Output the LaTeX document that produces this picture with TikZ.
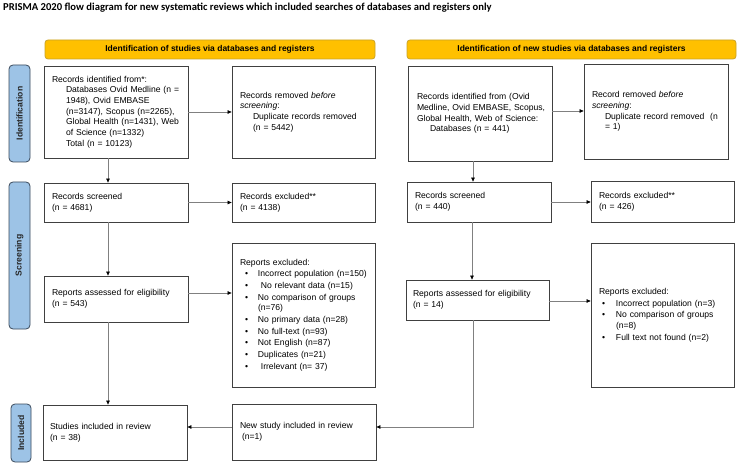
\documentclass[tikz,border=0pt]{standalone}
\usepackage{fontspec}
\setmainfont{Liberation Sans}
\newfontfamily\titlefont{Carlito}
\usetikzlibrary{arrows.meta}
\definecolor{hdrfill}{HTML}{FFC000}
\definecolor{hdrdraw}{HTML}{C9A227}
\definecolor{tabfill}{HTML}{9DC3E6}
\definecolor{tabdraw}{HTML}{3B4A5C}
\newcommand{\ind}[2]{\mbox{\hspace*{#1}#2}}
\begin{document}
\begin{tikzpicture}[x=1pt,y=-1pt,
  box/.style={draw=black!75, line width=0.8pt, fill=white, inner xsep=8pt, inner ysep=2pt,
    align=left, font=\fontsize{8.6}{10.7}\selectfont, anchor=center},
  hdr/.style={draw=hdrdraw, line width=0.8pt, fill=hdrfill, rounded corners=3pt,
    minimum height=19pt, inner sep=0pt, font=\bfseries\fontsize{8.5}{9}\selectfont, anchor=center},
  tabbox/.style={draw=tabdraw, line width=0.8pt, fill=tabfill, rounded corners=4pt, rotate=90,
    inner sep=0pt, font=\bfseries\fontsize{8.6}{9}\selectfont, text=black!85, anchor=center},
  arr/.style={draw=black!50, line width=0.7pt, -{Triangle[length=4pt,width=3.6pt,color=black]}}
]
\fill[white] (0,0) rectangle (739,465);
\useasboundingbox (0,0) rectangle (739,465);

\node[anchor=west, inner sep=0pt, font=\titlefont\bfseries\fontsize{10.6}{12}\selectfont] (title) at (3,8)
  {PRISMA 2020 flow diagram for new systematic reviews which included searches of databases and registers only};

% headers
\node[hdr, minimum width=330pt] (hl) at (210,49.5) {Identification of studies via databases and registers};
\node[hdr, minimum width=329pt] (hr) at (571.5,49.5) {Identification of new studies via databases and registers};

% side tabs
\node[tabbox, minimum width=97pt, minimum height=21pt] (tid) at (19.5,113.5) {Identification};
\node[tabbox, minimum width=147pt, minimum height=21pt] (tsc) at (19.5,255.5) {Screening};
\node[tabbox, minimum width=58pt, minimum height=20pt] (tin) at (21,433) {Included};

% left column
\node[box, text width=128pt, minimum height=92pt] (rid1) at (116,112)
  {\ind{0pt}{Records identified from*:}\\
   \ind{14pt}{Databases Ovid Medline (n =}\\
   \ind{14pt}{1948), Ovid EMBASE}\\
   \ind{14pt}{(n=3147), Scopus (n=2265),}\\
   \ind{14pt}{Global Health (n=1431), Web}\\
   \ind{14pt}{of Science (n=1332)}\\
   \ind{14pt}{Total (n = 10123)}};
\node[box, text width=127pt, minimum height=92pt] (rem1) at (303.5,112)
  {\ind{0pt}{Records removed \textit{before}}\\
   \ind{0pt}{\textit{screening}:}\\
   \ind{13pt}{Duplicate records removed}\\
   \ind{13pt}{(n = 5442)}\\[4pt]};
\node[box, text width=128pt, minimum height=39pt] (rs1) at (116,202.5)
  {Records screened\\(n = 4681)};
\node[box, text width=127pt, minimum height=39pt] (rx1) at (303.5,202.5)
  {Records excluded**\\(n = 4138)};
\node[box, text width=128pt, minimum height=46pt] (ra1) at (116,299)
  {\ind{0pt}{Reports assessed for eligibility}\\(n = 543)};
\node[box, text width=127pt, minimum height=144pt, font=\fontsize{8.6}{11.75}\selectfont] (rex1) at (303.5,315)
  {Reports excluded:\\
   \ind{5pt}{\makebox[13pt][l]{\textbullet}Incorrect population (n=150)}\\
   \ind{5pt}{\makebox[13pt][l]{\textbullet} No relevant data (n=15)}\\
   \ind{5pt}{\makebox[13pt][l]{\textbullet}No comparison of groups}\\[-1.5pt]
   \ind{18pt}{(n=76)}\\
   \ind{5pt}{\makebox[13pt][l]{\textbullet}No primary data (n=28)}\\
   \ind{5pt}{\makebox[13pt][l]{\textbullet}No full-text (n=93)}\\
   \ind{5pt}{\makebox[13pt][l]{\textbullet}Not English (n=87)}\\
   \ind{5pt}{\makebox[13pt][l]{\textbullet}Duplicates (n=21)}\\
   \ind{5pt}{\makebox[13pt][l]{\textbullet} Irrelevant (n= 37)}\\[8pt]};
\node[box, inner xsep=7pt, text width=130pt, minimum height=55pt] (si) at (115,432.5)
  {Studies included in review\\(n = 38)\\[6pt]};
\node[box, text width=128pt, minimum height=56pt] (ns) at (304,432)
  {\ind{0pt}{New study included in review}\\\ind{2pt}{(n=1)}};

% right column
\node[box, inner xsep=9pt, text width=126pt, minimum height=95pt] (rid2) at (480,113.5)
  {\ind{0pt}{Records identified from (Ovid}\\
   \ind{0pt}{Medline, Ovid EMBASE, Scopus,}\\
   \ind{0pt}{Global Health, Web of Science:}\\
   \ind{13pt}{Databases (n = 441)}\\[6pt]};
\node[box, text width=128pt, minimum height=95pt] (rem2) at (656,111.5)
  {\ind{0pt}{Record removed \textit{before}}\\
   \ind{0pt}{\textit{screening}:}\\
   \ind{13pt}{Duplicate record removed\ \ (n}\\
   \ind{13pt}{= 1)}\\[6pt]};
\node[box, text width=128pt, minimum height=40pt] (rs2) at (479,202)
  {Records screened\\(n = 440)};
\node[box, text width=127pt, minimum height=41pt] (rx2) at (662.5,201.5)
  {Records excluded**\\(n = 426)};
\node[box, inner xsep=7pt, text width=129pt, minimum height=40pt] (ra2) at (477.5,300)
  {\ind{0pt}{Reports assessed for eligibility}\\(n = 14)};
\node[box, text width=127pt, minimum height=144pt] (rex2) at (662.5,315)
  {Reports excluded:\\[1pt]
   \ind{3pt}{\makebox[14pt][l]{\textbullet}Incorrect population (n=3)}\\[1pt]
   \ind{3pt}{\makebox[14pt][l]{\textbullet}No comparison of groups}\\
   \ind{17pt}{(n=8)}\\[1pt]
   \ind{3pt}{\makebox[14pt][l]{\textbullet}Full text not found (n=2)}};

% connectors left
\draw[arr] (rid1.east) -- (rem1.west);
\draw[arr] ([xshift=-8pt]rid1.south) -- ([xshift=-8pt]rid1.south |- rs1.north);
\draw[arr] (rs1.east) -- (rx1.west);
\draw[arr] ([xshift=-8pt]rs1.south) -- ([xshift=-8pt]rs1.south |- ra1.north);
\draw[arr] ([yshift=6pt]ra1.east) -- ([yshift=6pt]ra1.east -| rex1.west);
\draw[arr] ([xshift=-8pt]ra1.south) -- ([xshift=-8pt]ra1.south |- si.north);
\draw[arr] ([yshift=5pt]ns.west) -- ([yshift=5pt]ns.west -| si.east);

% connectors right
\draw[arr] ([yshift=2.5pt]rid2.east) -- ([yshift=2.5pt]rid2.east -| rem2.west);
\draw[arr] ([xshift=-7pt]rid2.south) -- ([xshift=-7pt]rid2.south |- rs2.north);
\draw[arr] (rs2.east) -- (rs2.east -| rx2.west);
\draw[arr] ([xshift=-7pt]rs2.south) -- ([xshift=-7pt]rs2.south |- ra2.north);
\draw[arr] ([yshift=-1pt]ra2.east) -- ([yshift=-1pt]ra2.east -| rex2.west);
\draw[arr] ([xshift=-4.5pt]ra2.south) |- ([yshift=5pt]ns.east);
\end{tikzpicture}
\end{document}
